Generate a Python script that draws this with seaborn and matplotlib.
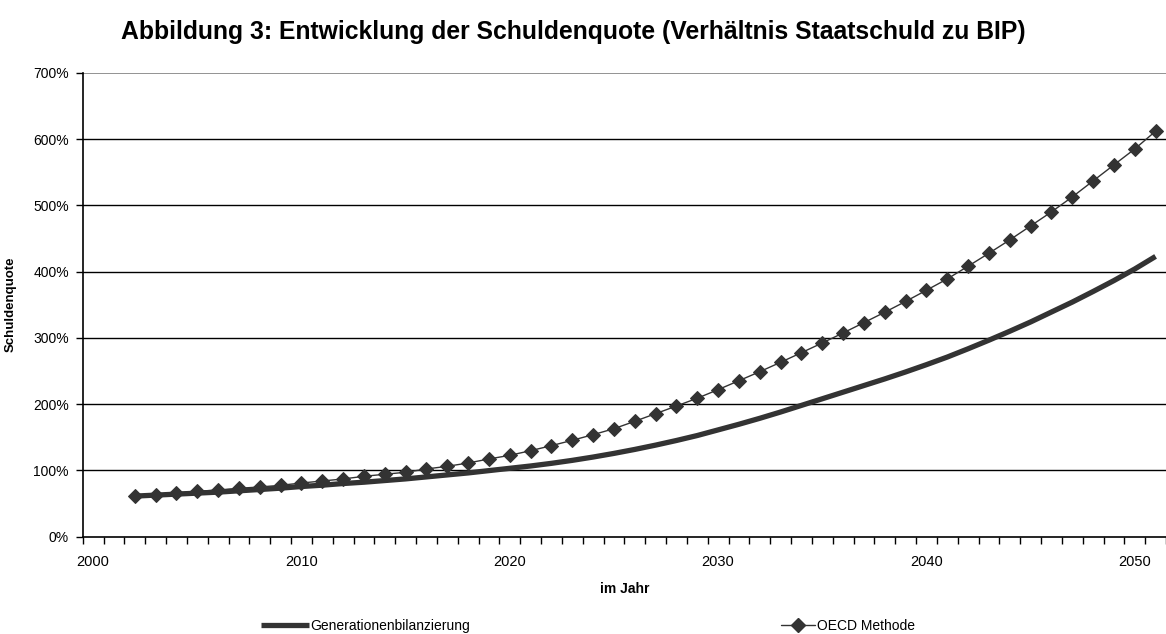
import matplotlib
matplotlib.use("Agg")
import matplotlib.pyplot as plt
from matplotlib.ticker import FixedLocator, FuncFormatter
from matplotlib.lines import Line2D
import pandas as pd
import seaborn as sns

years = list(range(2002, 2052))

# Generationenbilanzierung (Schuldenquote in %)
gen_bilanz = [61, 62.5, 64, 65.5, 67, 69, 71, 73, 75.5, 77.5,
              80, 82, 84.5, 87, 90, 93, 96, 99.5, 103, 106.5,
              110.5, 115, 120, 125.5, 131.5, 138, 145, 152.5, 161, 169.5,
              178.5, 188, 198, 208, 218, 228, 238, 248.5, 259.5, 271,
              283.5, 296.5, 310, 324, 339, 354, 370, 386.5, 404, 423]

# OECD Methode (Schuldenquote in %)
oecd = [61.2, 63.1, 65.7, 68.3, 70.2, 72.8, 74.8, 77.3, 80.8, 83.8,
        86.9, 90.9, 94.0, 97.0, 102.0, 106.0, 111.0, 117.1, 122.6, 129.6,
        137.2, 145.3, 153.8, 162.8, 174.0, 185.5, 197.1, 208.8, 221.8, 235.3,
        248.9, 263.1, 277.6, 292.3, 307.4, 323.0, 338.7, 355.0, 371.9, 389.0,
        408.2, 427.8, 447.9, 469.0, 490.2, 512.8, 537.0, 561.2, 585.3, 612.1]

year_labels = [2000, 2010, 2020, 2030, 2040, 2050]
y_ticks = [0, 100, 200, 300, 400, 500, 600, 700]

df = pd.DataFrame({"Jahr": years, "Generationenbilanzierung": gen_bilanz, "OECD Methode": oecd})

sns.set_theme(style="white")
plt.rcParams["font.family"] = ["Liberation Sans", "DejaVu Sans"]
plt.rcParams["text.color"] = "black"
plt.rcParams["axes.labelcolor"] = "black"
plt.rcParams["xtick.color"] = "black"
plt.rcParams["ytick.color"] = "black"

col = "#333333"
fig = plt.figure(figsize=(11.66, 6.34), dpi=100)
ax = fig.add_axes([82.7 / 1166, 1 - 536.5 / 634, 1 - 82.7 / 1166, (536.5 - 73) / 634])

sns.lineplot(data=df, x="Jahr", y="Generationenbilanzierung", ax=ax, color=col, linewidth=3.8,
             solid_capstyle="butt")
sns.lineplot(data=df, x="Jahr", y="OECD Methode", ax=ax, color=col, linewidth=1.0,
             marker="D", markersize=7, markeredgecolor=col, markerfacecolor=col)

ax.set_xlim(1999.5, 2051.5)
ax.set_ylim(0, 700)

# gridlines
for v in y_ticks[1:-1]:
    ax.axhline(v, color="black", linewidth=1.0, zorder=0)
ax.axhline(700, color="#808080", linewidth=1.2, zorder=0)

for s in ["top", "right"]:
    ax.spines[s].set_visible(False)
for s in ["left", "bottom"]:
    ax.spines[s].set_color("black")
    ax.spines[s].set_linewidth(1.2)

ax.yaxis.set_major_locator(FixedLocator(y_ticks))
ax.yaxis.set_major_formatter(FuncFormatter(lambda v, p: f"{int(v)}%"))
ax.tick_params(axis="y", which="major", direction="out", length=5, width=1, color="black",
               labelsize=10, pad=5, left=True, labelcolor="black")

ax.set_xticks(year_labels)
ax.set_xticklabels([str(y) for y in year_labels])
ax.xaxis.set_minor_locator(FixedLocator([y - 0.5 for y in range(2000, 2053)]))
ax.tick_params(axis="x", which="major", length=0, labelsize=10.5, pad=13, labelcolor="black")
ax.tick_params(axis="x", which="minor", direction="out", length=5, width=1, color="black", bottom=True)

ax.set_xlabel("im Jahr", fontsize=10, fontweight="bold", color="black")
ax.xaxis.set_label_coords(0.5, -0.098)
ax.set_ylabel("Schuldenquote", fontsize=9.5, fontweight="bold", color="black")
ax.yaxis.set_label_coords(-0.0606, 0.5)

fig.suptitle("Abbildung 3: Entwicklung der Schuldenquote (Verhältnis Staatschuld zu BIP)",
             x=0.492, y=1 - 32 / 634, va="center", fontsize=17.8, fontweight="bold", color="black")

h1 = Line2D([], [], color=col, linewidth=3.8, solid_capstyle="butt")
h2 = Line2D([], [], color=col, linewidth=1.0, marker="D", markersize=7)
fig.legend(handles=[h1], labels=["Generationenbilanzierung"], loc="center left",
           bbox_to_anchor=(255 / 1166, 1 - 626 / 634), frameon=False, fontsize=10,
           handlelength=3.5, handletextpad=0.1, borderaxespad=0, labelcolor="black")
fig.legend(handles=[h2], labels=["OECD Methode"], loc="center left",
           bbox_to_anchor=(775 / 1166, 1 - 626 / 634), frameon=False, fontsize=10,
           handlelength=2.5, handletextpad=0.1, borderaxespad=0, labelcolor="black")

fig.savefig("out.png", dpi=100)
